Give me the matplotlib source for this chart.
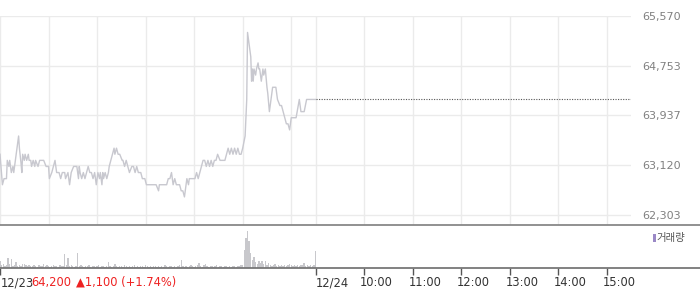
import matplotlib
matplotlib.use("Agg")
import matplotlib.pyplot as plt
from matplotlib.lines import Line2D
from matplotlib.patches import Rectangle

# ---- data -------------------------------------------------------------
# minutes since 09:00 (12/23 session: 0..390, 12/24 session: 390..780)
price_min = [0, 3, 5, 8, 9, 11, 12, 14, 16, 17, 19, 20, 21, 23, 24, 26, 27, 28, 30, 31,
             33, 35, 36, 38, 39, 41, 43, 44, 47, 49, 54, 57, 60, 61, 64, 66, 68, 70, 73, 75,
             77, 80, 81, 84, 86, 88, 91, 95, 97, 98, 99, 101, 103, 105, 107, 109, 111, 113, 115, 117,
             119, 121, 123, 124, 126, 127, 128, 130, 132, 134, 135, 137, 139, 141, 142, 144, 146, 148, 151, 152,
             154, 156, 158, 160, 163, 165, 167, 169, 171, 174, 176, 179, 181, 193, 196, 197, 202, 206, 208, 210,
             212, 214, 216, 218, 220, 222, 224, 226, 228, 230, 231, 233, 234, 237, 239, 241, 243, 245, 247, 249,
             251, 253, 255, 257, 259, 261, 263, 265, 267, 269, 272, 274, 278, 280, 282, 284, 286, 288, 290, 292,
             294, 296, 298, 300, 303, 305, 306, 309, 310, 311, 312, 313, 314, 316, 317, 319, 320, 321, 323, 325,
             326, 328, 330, 331, 333, 335, 337, 339, 341, 343, 346, 348, 350, 354, 356, 358, 360, 362, 364, 366,
             370, 372, 374, 376, 379, 390]
price_val = [63300, 62800, 62900, 62900, 63200, 63100, 63200, 63000, 63100, 63000, 63200, 63300, 63400, 63600, 63400, 63150, 63000, 63300, 63200, 63300,
             63200, 63300, 63200, 63200, 63100, 63200, 63100, 63200, 63100, 63200, 63200, 63100, 63100, 62900, 63000, 63100, 63200, 63000, 63000, 62900,
             63000, 63000, 62900, 63000, 62800, 63000, 63100, 63100, 62900, 63100, 63000, 62900, 63000, 62900, 63000, 63100, 63000, 63000, 62900, 63000,
             62800, 63000, 62900, 63000, 62800, 63000, 62900, 63000, 62900, 63000, 63100, 63200, 63300, 63400, 63300, 63400, 63300, 63300, 63200, 63200,
             63100, 63200, 63100, 63000, 63100, 63100, 63000, 63100, 63000, 63000, 62900, 62900, 62800, 62800, 62700, 62800, 62800, 62800, 62900, 62900,
             63000, 62800, 62900, 62800, 62800, 62800, 62700, 62700, 62600, 62800, 62900, 62800, 62900, 62900, 62900, 62900, 63000, 62900, 63000, 63100,
             63200, 63200, 63100, 63200, 63100, 63200, 63100, 63200, 63200, 63300, 63200, 63200, 63200, 63300, 63400, 63300, 63400, 63300, 63400, 63300,
             63400, 63300, 63300, 63400, 63600, 64200, 65300, 65000, 64900, 64500, 64700, 64500, 64700, 64600, 64700, 64800, 64700, 64700, 64500, 64700,
             64600, 64700, 64400, 64300, 64000, 64200, 64400, 64400, 64400, 64200, 64100, 64100, 64000, 63800, 63800, 63700, 63900, 63900, 63900, 63900,
             64200, 64000, 64000, 64000, 64200, 64200]

vol_min = list(range(0, 392, 2))
vol_val = [7, 3, 4, 2, 3, 10, 4, 9, 2, 3, 6, 2, 3, 2, 4, 4, 3, 2, 3, 2,
           2, 3, 2, 1, 3, 2, 2, 4, 2, 3, 2, 1, 2, 3, 2, 2, 1, 3, 2, 2,
           14, 3, 10, 2, 3, 2, 1, 2, 15, 2, 3, 2, 1, 2, 2, 3, 1, 2, 2, 1,
           2, 3, 1, 2, 2, 1, 2, 6, 2, 1, 2, 4, 2, 1, 2, 2, 1, 3, 2, 1,
           2, 1, 2, 3, 1, 2, 1, 2, 2, 1, 3, 2, 1, 2, 1, 2, 2, 1, 2, 1,
           2, 1, 3, 2, 1, 2, 2, 1, 2, 1, 2, 3, 8, 2, 1, 2, 1, 2, 3, 2,
           1, 2, 3, 5, 2, 1, 3, 4, 2, 1, 2, 2, 1, 2, 3, 1, 2, 2, 1, 2,
           2, 1, 2, 1, 2, 2, 1, 2, 2, 3, 3, 18, 30, 37, 27, 15, 8, 11, 6, 4,
           7, 5, 7, 4, 7, 3, 5, 3, 2, 3, 4, 2, 3, 2, 3, 2, 3, 2, 3, 4,
           3, 2, 3, 2, 3, 2, 3, 3, 5, 2, 3, 2, 3, 2, 3, 17]

last_price = 64200
change = 1100
change_pct = 1.74
y_ticks = [62303, 63120, 63937, 64753, 65570]
y_tick_labels = ["62,303", "63,120", "63,937", "64,753", "65,570"]
grid_min = [0, 60, 120, 180, 240, 300, 360, 390, 450, 510, 570, 630, 690, 750]
x_tick_min = [390, 450, 510, 570, 630, 690, 750]
x_tick_labels = ["12/24", "10:00", "11:00", "12:00", "13:00", "14:00", "15:00"]
first_date = "12/23"
legend_label = "거래량"

# ---- figure -----------------------------------------------------------
W, H = 700, 289
fig = plt.figure(figsize=(W / 100, H / 100), dpi=100)
fig.patch.set_facecolor("white")

plot_right = 631
ppx = (y_ticks[-1] - y_ticks[0]) / 199.0

ax = fig.add_axes([0, 1 - 225 / H, plot_right / W, (225 - 16) / H])
ax.set_xlim(0, 780)
ax.set_ylim(y_ticks[0] - 10 * ppx, y_ticks[-1])
for s in ax.spines.values():
    s.set_visible(False)
ax.set_xticks([])
ax.set_yticks(y_ticks)
ax.set_yticklabels(y_tick_labels)
ax.yaxis.tick_right()
ax.tick_params(axis="y", length=0, pad=8, labelsize=8, labelcolor="#808080")
for yv in y_ticks:
    ax.axhline(yv, color="#ebebeb", lw=1, zorder=0)
for xm in grid_min:
    ax.axvline(xm, color="#ebebeb", lw=1, zorder=0)
ax.plot(price_min, price_val, color="#c8c8cf", lw=1.0, zorder=2)
ax.plot([390, 780], [last_price, last_price], color="#555555", lw=0.8,
        ls=(0, (1, 1.3)), zorder=3)

vax = fig.add_axes([0, 1 - 268 / H, plot_right / W, (268 - 225) / H])
vax.set_xlim(0, 780)
vax.set_ylim(0, 43)
vax.bar(vol_min, vol_val, width=1.7, color="#c8c8cc", align="center")
for s in vax.spines.values():
    s.set_visible(False)
vax.set_yticks([])
vax.set_xticks([0] + x_tick_min)
vax.tick_params(axis="x", direction="out", length=5, width=1, color="#555555",
                labelbottom=False)

# separator lines spanning full width
fig.add_artist(Line2D([0, 1], [1 - 225.3 / H] * 2, color="#888888", lw=1.3))
fig.add_artist(Line2D([0, 1], [1 - 268.3 / H] * 2, color="#777777", lw=1.3))

# x labels
ty = 1 - 282.5 / H
fig.text(0.5 / W, ty, first_date, ha="left", va="center", fontsize=8.3, color="#333333")
fig.text(31.5 / W, ty, f"{last_price:,}", ha="left", va="center", fontsize=8.3, color="#ee2222")
fig.text(76 / W, ty, f"▲{change:,} (+{change_pct:.2f}%)", ha="left", va="center",
         fontsize=8.3, color="#ee2222")
for m, lab in zip(x_tick_min, x_tick_labels):
    px = m * plot_right / 780
    off = 0 if "/" in lab else -4
    fig.text((px + off) / W, ty, lab, ha="left", va="center", fontsize=8.3, color="#333333")

# legend
fig.add_artist(Rectangle((652.7 / W, 1 - 242.3 / H), 2.8 / W, 8 / H,
                         transform=fig.transFigure, color="#9a88c6", lw=0))
fig.text(656.5 / W, 1 - 238.5 / H, legend_label, ha="left", va="center", fontsize=7.5,
         color="#555555", family=["Noto Sans CJK KR", "DejaVu Sans"])

fig.savefig("out.png", dpi=100)
